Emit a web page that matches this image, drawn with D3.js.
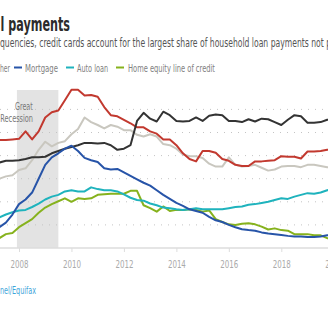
<!DOCTYPE html>
<html>
<head>
<meta charset="utf-8">
<script src="https://cdn.jsdelivr.net/npm/d3@7"></script>
<style>
    html, body { margin: 0; padding: 0; background: #fff; overflow: hidden; }
    text { font-family: "Liberation Sans Narrow", "DejaVu Sans Condensed", "Roboto", sans-serif; font-stretch: condensed; }
</style>
</head>
<body>
<script>
let width = 328;
let height = 328;

// quarterly, 2007Q1 .. 2020Q1
let quarters = [
    "2007Q1", "2007Q2", "2007Q3", "2007Q4", "2008Q1", "2008Q2", "2008Q3", "2008Q4",
    "2009Q1", "2009Q2", "2009Q3", "2009Q4", "2010Q1", "2010Q2", "2010Q3", "2010Q4",
    "2011Q1", "2011Q2", "2011Q3", "2011Q4", "2012Q1", "2012Q2", "2012Q3", "2012Q4",
    "2013Q1", "2013Q2", "2013Q3", "2013Q4", "2014Q1", "2014Q2", "2014Q3", "2014Q4",
    "2015Q1", "2015Q2", "2015Q3", "2015Q4", "2016Q1", "2016Q2", "2016Q3", "2016Q4",
    "2017Q1", "2017Q2", "2017Q3", "2017Q4", "2018Q1", "2018Q2", "2018Q3", "2018Q4",
    "2019Q1", "2019Q2", "2019Q3", "2019Q4", "2020Q1"
];

// percent of balance seriously delinquent
let creditCard = [
    9.3, 9.35, 9.35, 9.4, 9.45, 10.1, 9.4, 10.1,
    11.3, 11.75, 11.9, 12.8, 13.7, 13.7, 13.2, 13.25,
    13.1, 12.2, 11.5, 11.4, 11.1, 10.8, 10.45, 10.45,
    10.1, 9.9, 9.4, 9.4, 8.9, 8.2, 7.7, 7.5,
    8.4, 8.4, 8.25, 7.7, 7.55, 7.2, 7.1, 7.1,
    7.5, 7.5, 7.55, 7.6, 7.95, 7.9, 7.9, 7.75,
    8.35, 8.35, 8.4, 8.5, 8.6
];
let other = [
    5.8, 6.0, 6.2, 6.3, 6.75, 6.9, 7.6, 8.5,
    9.2, 8.8, 9.1, 9.25, 9.85, 10.3, 11.3, 10.9,
    10.65, 10.35, 10.65, 10.5, 10.2, 10.2, 9.8, 9.65,
    9.85, 9.65, 9.0, 8.9, 8.6, 8.1, 7.95, 7.95,
    7.8, 7.3, 7.05, 7.05, 7.85, 7.2, 7.05, 7.1,
    7.2, 6.95, 6.7, 6.8, 7.05, 7.1, 7.1, 7.0,
    7.2, 7.2, 7.1, 7.0, 7.0
];
let studentLoan = [
    7.3, 7.4, 7.55, 7.55, 7.6, 7.7, 7.85, 7.85,
    7.9, 8.2, 8.4, 8.6, 8.75, 8.9, 9.1, 9.1,
    9.05, 9.1, 8.9, 8.5, 8.6, 8.9, 11.0, 11.7,
    11.2, 10.95, 11.8, 11.5, 11.0, 10.95, 11.0, 11.3,
    11.0, 11.45, 11.55, 11.5, 11.0, 11.0, 10.9, 11.15,
    10.95, 11.2, 11.15, 10.9, 10.65, 11.1, 11.5, 11.4,
    10.85, 10.85, 10.9, 11.1, 11.1
];
let mortgage = [
    1.4, 1.8, 2.2, 2.9, 3.8, 4.2, 4.8, 6.0,
    7.2, 7.85, 8.2, 8.6, 8.85, 8.4, 7.8, 7.6,
    7.45, 6.9, 6.8, 6.85, 6.55, 6.25, 5.95, 5.65,
    5.4, 5.0, 4.6, 4.25, 3.9, 3.65, 3.35, 3.2,
    3.05, 2.7, 2.4, 2.25, 2.0, 1.8, 1.62, 1.55,
    1.5, 1.35, 1.25, 1.2, 1.12, 1.05, 1.0, 1.0,
    0.95, 0.95, 1.0, 1.1, 1.1
];
let autoLoan = [
    2.45, 2.65, 2.9, 3.1, 3.25, 3.3, 3.55, 3.85,
    4.2, 4.45, 4.6, 4.9, 5.0, 4.9, 4.9, 5.25,
    5.1, 5.0, 5.0, 4.9, 4.65, 4.35, 4.15, 4.1,
    3.85, 3.7, 3.5, 3.45, 3.35, 3.3, 3.35, 3.45,
    3.35, 3.35, 3.35, 3.35, 3.45, 3.55, 3.6, 3.75,
    3.8, 3.9, 4.0, 4.15, 4.3, 4.25, 4.45, 4.6,
    4.75, 4.7, 4.8, 5.0, 5.1
];
let homeEquity = [
    0.6, 0.85, 1.2, 1.3, 1.8, 2.15, 2.5, 3.05,
    3.5, 3.8, 4.05, 4.3, 4.0, 4.3, 4.25, 4.3,
    4.6, 4.65, 4.7, 4.7, 4.7, 4.95, 4.95, 3.7,
    3.45, 3.15, 3.6, 3.2, 3.3, 3.3, 3.35, 3.3,
    3.15, 3.25, 2.5, 2.25, 2.05, 2.0, 2.1, 2.15,
    2.05, 1.85, 1.6, 1.7, 1.55, 1.5, 1.2, 1.2,
    1.2, 1.1, 1.1, 0.85, 0.8
];

let yearTicks = [2008, 2010, 2012, 2014, 2016, 2018, 2020];
let gridValues = [2, 4, 6, 8, 10, 12];
let recession = [2007.92, 2009.5];

let series = [
    { name: "Other", values: other, color: "#c9c7bf" },
    { name: "Credit card", values: creditCard, color: "#c2392f" },
    { name: "Student loan", values: studentLoan, color: "#333333" },
    { name: "Home equity line of credit", values: homeEquity, color: "#86b21d" },
    { name: "Auto loan", values: autoLoan, color: "#1fb3bd" },
    { name: "Mortgage", values: mortgage, color: "#2754a8" },
];

// legend row: swatch start, text start, text width
let legendItems = [
    { label: "her", color: null, sx: 0, tx: 0, tw: 10 },
    { label: "Mortgage", color: "#2754a8", sx: 14, tx: 25, tw: 33 },
    { label: "Auto loan", color: "#1fb3bd", sx: 66, tx: 77, tw: 31 },
    { label: "Home equity line of credit", color: "#86b21d", sx: 116, tx: 128, tw: 87 },
];

let qTime = q => +q.slice(0, 4) + (+q.slice(5) - 1) / 4;

let x = d3.scaleLinear()
    .domain([2008, 2018])
    .range([19, 281.3]);
let y = d3.scaleLinear()
    .domain([0, 12])
    .range([248, 109.4]);

let svg = d3.select("body").append("svg")
    .attr("width", width)
    .attr("height", height);

// fixed-width text helper, keeps the narrow type from spilling
let label = (parent, t, px, py, size, fill, len) => parent.append("text")
    .attr("x", px)
    .attr("y", py)
    .attr("textLength", len)
    .attr("lengthAdjust", "spacingAndGlyphs")
    .style("font-size", size)
    .style("fill", fill)
    .text(t);

// Headline and dek
label(svg, "l payments", 0.5, 30.5, "19px", "#2b2b2b", 69.5)
    .style("font-weight", "bold");
label(svg, "quencies, credit cards account for the largest share of household loan payments not p",
    0, 47, "11.5px", "#555", 331);

// Legend
let legend = svg.append("g").attr("class", "legend");
legendItems.forEach(item => {
    if (item.color) {
        legend.append("line")
            .attr("x1", item.sx).attr("x2", item.sx + 8)
            .attr("y1", 67.5).attr("y2", 67.5)
            .style("stroke", item.color)
            .style("stroke-width", 2);
    }
    label(legend, item.label, item.tx, 71.5, "11px", "#808080", item.tw);
});

// Recession band
svg.append("rect")
    .attr("x", x(recession[0]))
    .attr("y", 90)
    .attr("width", x(recession[1]) - x(recession[0]))
    .attr("height", y(0) - 90)
    .style("fill", "#e3e3e3");

label(svg, "Great", 15, 109.5, "11px", "#777", 17.7);
label(svg, "Recession", 0.3, 122, "11px", "#777", 32.7);

// Dotted gridlines
svg.append("g")
    .selectAll("line")
    .data(gridValues)
    .enter()
    .append("line")
    .attr("x1", 0)
    .attr("x2", width)
    .attr("y1", d => y(d))
    .attr("y2", d => y(d))
    .style("stroke", "#c4c4c4")
    .style("stroke-width", 1)
    .style("stroke-dasharray", "1 6");

// X axis
let xAxis = svg.append("g")
    .attr("transform", "translate(0," + y(0) + ")")
    .call(d3.axisBottom(x).tickValues(yearTicks).tickFormat(d3.format("d")).tickSize(4).tickPadding(9));
xAxis.select(".domain").remove();
xAxis.insert("line", ":first-child")
    .attr("x1", 0).attr("x2", width)
    .style("stroke", "#ddd")
    .style("stroke-width", 1.5);
xAxis.selectAll(".tick line").style("stroke", "#ddd");
xAxis.selectAll(".tick text")
    .attr("textLength", 18)
    .attr("lengthAdjust", "spacingAndGlyphs")
    .style("font-size", "10.5px")
    .style("fill", "#aaa")
    .style("font-family", "\"Liberation Sans Narrow\", \"DejaVu Sans Condensed\", sans-serif");

// Series lines
let line = d3.line()
    .x((d, i) => x(qTime(quarters[i])))
    .y(d => y(d));

svg.append("g")
    .selectAll("path")
    .data(series)
    .enter()
    .append("path")
    .attr("d", d => line(d.values))
    .style("fill", "none")
    .style("stroke", d => d.color)
    .style("stroke-width", 2)
    .style("stroke-linejoin", "round");

// Source line
label(svg, "nel/Equifax", 0, 294, "10.5px", "#3fa5da", 36);
</script>
</body>
</html>
